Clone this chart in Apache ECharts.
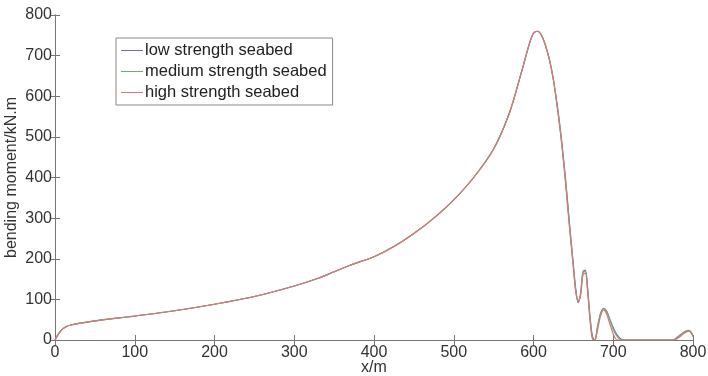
<!DOCTYPE html>
<html>
<head>
<meta charset="utf-8">
<script src="https://cdn.jsdelivr.net/npm/echarts@6/dist/echarts.min.js"></script>
<style>
  html, body { margin: 0; padding: 0; background: #fff; }
  #chart { width: 708px; height: 376px; }
</style>
</head>
<body>
<div id="chart"></div>
<script>
// x positions (m)
var xValues = [0, 5, 10, 15, 20, 30, 50, 75, 100, 150, 200, 250, 300, 330, 350, 370, 400, 425, 450, 475,
  500, 525, 550, 570, 585, 595, 600, 605, 610, 615, 620, 625, 630, 635, 640, 645, 650, 653, 656, 659,
  662, 665, 668, 671, 674, 677, 680, 684, 688, 692, 696, 700, 705, 710, 715, 720, 750, 775, 780, 785,
  790, 795, 798, 800];
// bending moment (kN.m)
var lowValues = [0, 17, 28, 34, 37, 41, 47, 53, 59, 72, 88, 107, 133, 152, 168, 184, 205, 230, 262, 300,
  345, 400, 470, 560, 660, 730, 755, 760, 750, 725, 690, 640, 575, 495, 400, 290, 185, 125, 92, 115,
  168, 172, 125, 55, 8, 0, 30, 65, 78, 70, 50, 30, 12, 2, 0, 0, 0, 0, 6, 14,
  21, 24, 18, 10];
var mediumValues = [0, 17, 28, 34, 37, 41, 47, 53, 59, 72, 88, 107, 133, 152, 168, 184, 205, 230, 262, 300,
  345, 400, 470, 560, 660, 730, 755, 760, 750, 725, 690, 640, 572, 492, 395, 285, 182, 122, 94, 112,
  166, 170, 122, 52, 6, 0, 28, 63, 77, 68, 48, 26, 8, 0, 0, 0, 0, 0, 5, 13,
  20, 23, 17, 9];
var highValues = [0, 17, 28, 34, 37, 41, 47, 53, 59, 72, 88, 107, 133, 152, 168, 184, 205, 230, 262, 300,
  345, 400, 470, 560, 660, 730, 755, 760, 750, 725, 690, 640, 570, 490, 390, 280, 178, 118, 96, 108,
  160, 165, 115, 45, 2, 0, 22, 58, 74, 62, 38, 15, 0, 0, 0, 0, 0, 0, 3, 10,
  18, 22, 16, 8];

var seriesNames = ['low strength seabed', 'medium strength seabed', 'high strength seabed'];
var seriesColors = ['#7070a8', '#78aa78', '#d67a7a'];

function pairs(ys) {
  return xValues.map(function (x, i) { return [x, ys[i]]; });
}

var myChart = echarts.init(document.getElementById('chart'));
var axisColor = '#777';
var textStyle = { fontFamily: 'Liberation Sans', fontSize: 16, color: '#333' };

myChart.setOption({
  animation: false,
  textStyle: { fontFamily: 'Liberation Sans' },
  grid: { left: 55, right: 15, top: 15, bottom: 36, outerBoundsMode: 'none', containLabel: false },
  legend: { //图例
    orient: 'vertical',
    left: 116,
    top: 38,
    padding: [4, 6, 4, 5],
    itemGap: 4,
    itemWidth: 22,
    itemHeight: 1,
    icon: 'rect',
    borderColor: '#888',
    borderWidth: 1,
    textStyle: { fontFamily: 'Liberation Sans', fontSize: 16.5, color: '#222', padding: [0, 0, 0, -3] },
    data: seriesNames
  },
  xAxis: [
    {
      type: 'value', min: 0, max: 800, interval: 100,
      name: 'x/m', nameLocation: 'middle', nameGap: 20, nameMoveOverlap: false,
      nameTextStyle: textStyle,
      axisLine: { lineStyle: { color: axisColor } },
      axisTick: { inside: true, length: 5, lineStyle: { color: axisColor } },
      axisLabel: Object.assign({ margin: 5 }, textStyle),
      splitLine: { show: false }
    },
    {
      type: 'value', min: 0, max: 800, interval: 100, position: 'top',
      axisLine: { show: true, lineStyle: { color: axisColor } },
      axisTick: { inside: true, length: 5, lineStyle: { color: axisColor } },
      axisLabel: { show: false },
      splitLine: { show: false }
    }
  ],
  yAxis: [
    {
      type: 'value', min: 0, max: 800, interval: 100,
      name: 'bending moment/kN.m', nameLocation: 'middle', nameGap: 35, nameMoveOverlap: false,
      nameTextStyle: textStyle,
      axisLine: { show: true, lineStyle: { color: axisColor } },
      axisTick: { show: true, inside: true, length: 5, lineStyle: { color: axisColor } },
      axisLabel: Object.assign({ margin: 3 }, textStyle),
      splitLine: { show: false }
    },
    {
      type: 'value', min: 0, max: 800, interval: 100, position: 'right',
      axisLine: { show: true, lineStyle: { color: axisColor } },
      axisTick: { show: true, inside: true, length: 5, lineStyle: { color: axisColor } },
      axisLabel: { show: false },
      splitLine: { show: false }
    }
  ],
  series: [
    { name: seriesNames[0], type: 'line', data: pairs(lowValues), showSymbol: false, smooth: 0.3,
      lineStyle: { width: 1.2, color: seriesColors[0] }, itemStyle: { color: seriesColors[0] } },
    { name: seriesNames[1], type: 'line', data: pairs(mediumValues), showSymbol: false, smooth: 0.3,
      lineStyle: { width: 1.2, color: seriesColors[1] }, itemStyle: { color: seriesColors[1] } },
    { name: seriesNames[2], type: 'line', data: pairs(highValues), showSymbol: false, smooth: 0.3,
      lineStyle: { width: 1.2, color: seriesColors[2] }, itemStyle: { color: seriesColors[2] } }
  ]
});
</script>
</body>
</html>
